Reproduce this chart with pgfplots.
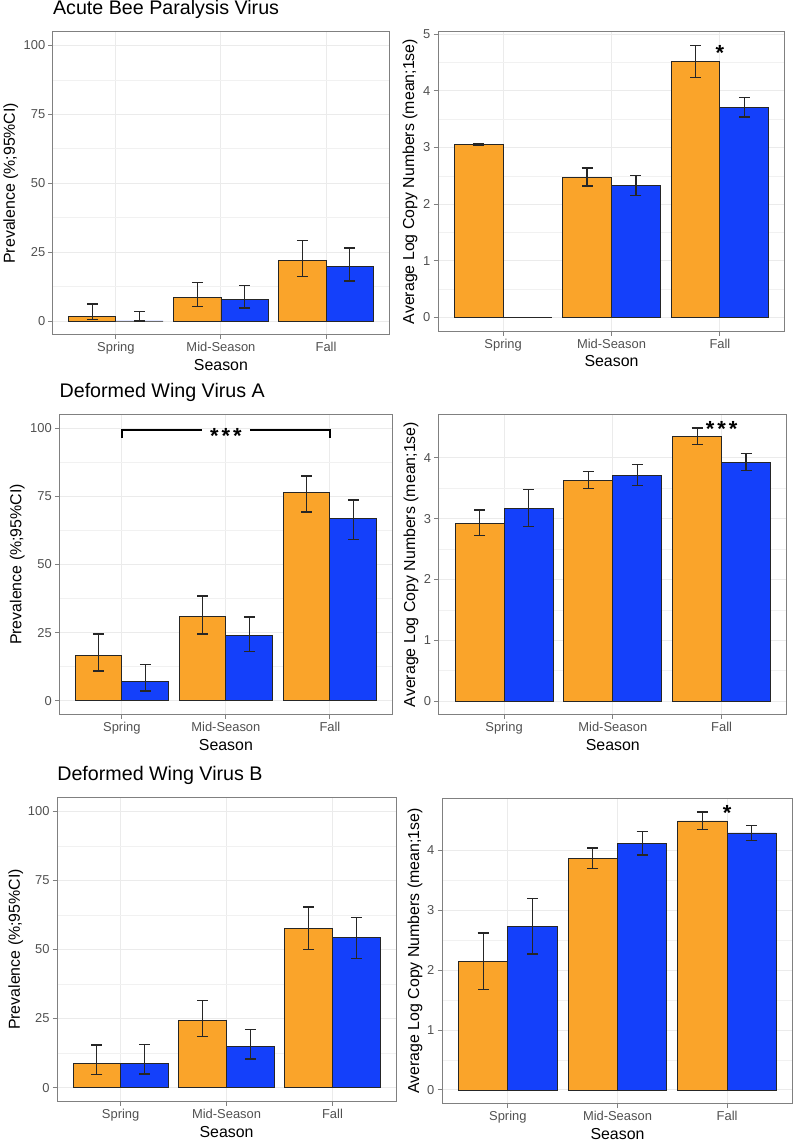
\documentclass[border=0pt]{standalone}
\usepackage{pgfplots}
\pgfplotsset{compat=1.18}
\usepackage{pgfplotstable}
\usepackage{fontspec}
\setmainfont{Liberation Sans}
\definecolor{orangeC}{HTML}{FAA42A}
\definecolor{blueC}{HTML}{1440FA}
\definecolor{gridC}{HTML}{EBEBEB}
\definecolor{tickC}{HTML}{505050}
\definecolor{frameC}{HTML}{808080}

% columns: x, orange mean, +err, -err, blue mean, +err, -err
\pgfplotstableread{
x oy oep oem by bep bem
1 1.8 4.4 1.2 0 3.4 0
2 8.6 5.4 3.4 7.9 4.9 3.2
3 22.1 7.2 5.9 19.9 6.6 5.4
}\tabA
\pgfplotstableread{
x oy oep oem by bep bem
1 3.05 0.02 0.01 0 0 0
2 2.47 0.17 0.15 2.33 0.18 0.18
3 4.52 0.28 0.28 3.71 0.17 0.17
}\tabB
\pgfplotstableread{
x oy oep oem by bep bem
1 16.6 7.9 5.7 7.1 6.3 3.5
2 31.1 7.4 6.6 23.9 6.9 5.8
3 76.6 5.9 7.3 66.9 6.8 7.6
}\tabC
\pgfplotstableread{
x oy oep oem by bep bem
1 2.92 0.22 0.20 3.17 0.31 0.30
2 3.63 0.15 0.14 3.71 0.18 0.17
3 4.35 0.14 0.13 3.93 0.14 0.14
}\tabD
\pgfplotstableread{
x oy oep oem by bep bem
1 8.8 6.6 4.0 8.8 6.7 3.9
2 24.2 7.3 5.7 14.9 6.2 4.6
3 57.6 7.8 7.7 54.2 7.4 7.5
}\tabE
\pgfplotstableread{
x oy oep oem by bep bem
1 2.15 0.47 0.47 2.73 0.47 0.46
2 3.87 0.17 0.17 4.11 0.20 0.19
3 4.49 0.15 0.14 4.29 0.13 0.12
}\tabF

\tikzset{sigstar/.style={anchor=base, yshift=-12.5pt, inner sep=0pt, font=\bfseries\fontsize{22}{26}\selectfont}}
\newcommand{\three}{*\hspace{3pt}*\hspace{3pt}*}

\pgfplotsset{
 panel/.style={
  scale only axis, anchor=south west,
  xmin=0.4, xmax=3.6,
  xtick={1,2,3}, xticklabels={Spring,Mid-Season,Fall},
  tick align=outside, tick pos=left,
  major tick length=4.5pt, minor tick length=0pt,
  minor y tick num=1,
  xmajorgrids, ymajorgrids, yminorgrids,
  major grid style={gridC, line width=1pt},
  minor grid style={gridC!70!white, line width=0.6pt},
  axis line style={frameC, line width=1pt},
  major tick style={frameC, line width=1pt},
  tick label style={font=\fontsize{13}{15}\selectfont, text=tickC},
  xticklabel style={anchor=north, inner sep=0pt, yshift=-3pt},
  yticklabel style={anchor=east, inner sep=0pt, xshift=-3pt},
  /pgf/number format/assume math mode=true,
  xlabel={Season},
  every axis x label/.style={at={(axis description cs:0.5,0)}, anchor=base, yshift=-36pt, font=\fontsize{16}{19}\selectfont},
  every axis y label/.style={anchor=center, rotate=90, font=\fontsize{16}{19}\selectfont},
  title style={at={(axis description cs:0,1)}, anchor=base west, inner sep=0pt, yshift=11.5pt, font=\fontsize{19.8}{23}\selectfont},
  clip=false,
 },
 obar/.style={ybar, bar width=0.45, bar shift=0pt, fill=orangeC, draw=black!85, line width=0.9pt,
   error bars/.cd, y dir=both, y explicit,
   error bar style={line width=1.3pt, black!85},
   error mark options={rotate=90, mark size=5.5pt, line width=1.3pt, black!85}},
 bbar/.style={ybar, bar width=0.45, bar shift=0pt, fill=blueC, draw=black!85, line width=0.9pt,
   error bars/.cd, y dir=both, y explicit,
   error bar style={line width=1.3pt, black!85},
   error mark options={rotate=90, mark size=5.5pt, line width=1.3pt, black!85}},
}

\newcommand{\bars}[1]{%
  \addplot[obar] table[x expr=\thisrow{x}-0.225, y=oy, y error plus=oep, y error minus=oem] {#1};
  \addplot[bbar] table[x expr=\thisrow{x}+0.225, y=by, y error plus=bep, y error minus=bem] {#1};
}

\begin{document}
\begin{tikzpicture}

% Row 1
\begin{axis}[panel, at={(50.7pt,811pt)}, width=338.3pt, height=305pt,
  ymin=-5, ymax=105, ytick={0,25,50,75,100},
  title={Acute Bee Paralysis Virus},
  ylabel={Prevalence (\%;95\%CI)}, ylabel style={at={(axis description cs:-0.1253,0.5)}}]
\bars{\tabA}
\end{axis}

\begin{axis}[panel, at={(438.3pt,814.7pt)}, width=349pt, height=301pt,
  ymin=-0.24, ymax=5.04, ytick={0,1,2,3,4,5},
  ylabel={Average Log Copy Numbers (mean;1se)}, ylabel style={at={(axis description cs:-0.0811,0.5)}}]
\bars{\tabB}
\node[sigstar] at (axis cs:3,4.76) {*};
\end{axis}

% Row 2
\begin{axis}[panel, at={(57.3pt,429pt)}, width=335pt, height=301.7pt,
  ymin=-5, ymax=105, ytick={0,25,50,75,100},
  title={Deformed Wing Virus A},
  ylabel={Prevalence (\%;95\%CI)}, ylabel style={at={(axis description cs:-0.1263,0.5)}}]
\bars{\tabC}
\addplot[black, line width=2.3pt, forget plot] coordinates {(1,96.4) (1,99.3) (1.775,99.3)};
\addplot[black, line width=2.3pt, forget plot] coordinates {(2.23,99.3) (3,99.3) (3,96.4)};
\node[sigstar] at (axis cs:2,98.8) {\three};
\end{axis}

\begin{axis}[panel, at={(439pt,429pt)}, width=350.3pt, height=301.7pt,
  ymin=-0.22, ymax=4.71, ytick={0,1,2,3,4},
  ylabel={Average Log Copy Numbers (mean;1se)}, ylabel style={at={(axis description cs:-0.0799,0.5)}}]
\bars{\tabD}
\node[sigstar] at (axis cs:3,4.55) {\three};
\end{axis}

% Row 3
\begin{axis}[panel, at={(55pt,39.7pt)}, width=341pt, height=305.6pt,
  ymin=-5, ymax=105, ytick={0,25,50,75,100},
  title={Deformed Wing Virus B},
  ylabel={Prevalence (\%;95\%CI)}, ylabel style={at={(axis description cs:-0.1223,0.5)}}]
\bars{\tabE}
\end{axis}

\begin{axis}[panel, at={(442.3pt,37.3pt)}, width=353pt, height=307.4pt,
  ymin=-0.23, ymax=4.87, ytick={0,1,2,3,4},
  ylabel={Average Log Copy Numbers (mean;1se)}, ylabel style={at={(axis description cs:-0.0773,0.5)}}]
\bars{\tabF}
\node[sigstar] at (axis cs:3,4.71) {*};
\end{axis}
\end{tikzpicture}
\end{document}
